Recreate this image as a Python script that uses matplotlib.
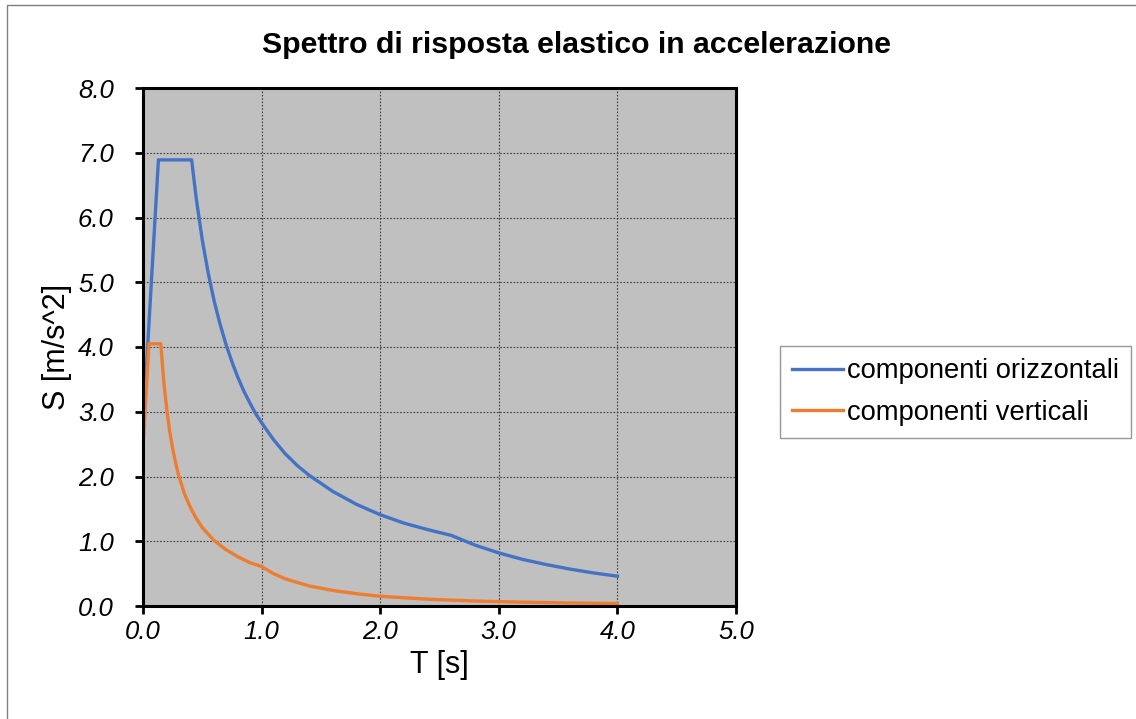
import matplotlib.pyplot as plt
from matplotlib.patches import Rectangle

# spettro orizzontale
t_h = [0.0, 0.13, 0.41, 0.45, 0.50, 0.55, 0.60, 0.65, 0.70, 0.75, 0.80, 0.85,
       0.90, 0.95, 1.00, 1.10, 1.20, 1.30, 1.40, 1.60, 1.80, 2.00, 2.20, 2.40,
       2.60, 2.80, 3.00, 3.20, 3.40, 3.60, 3.80, 4.00]
s_h = [2.76, 6.89, 6.89, 6.28, 5.65, 5.14, 4.71, 4.35, 4.04, 3.77, 3.53, 3.32,
       3.14, 2.97, 2.83, 2.57, 2.35, 2.17, 2.02, 1.77, 1.57, 1.41, 1.28, 1.18,
       1.09, 0.94, 0.82, 0.72, 0.64, 0.57, 0.51, 0.46]

# spettro verticale
t_v = [0.0, 0.05, 0.15, 0.175, 0.20, 0.225, 0.25, 0.275, 0.30, 0.35, 0.40,
       0.45, 0.50, 0.60, 0.70, 0.80, 0.90, 1.00, 1.10, 1.20, 1.40, 1.60, 1.80,
       2.00, 2.40, 2.80, 3.20, 3.60, 4.00]
s_v = [2.45, 4.05, 4.05, 3.47, 3.04, 2.70, 2.43, 2.21, 2.02, 1.73, 1.52,
       1.35, 1.21, 1.01, 0.87, 0.76, 0.67, 0.61, 0.50, 0.42, 0.31, 0.24, 0.19,
       0.15, 0.105, 0.077, 0.059, 0.047, 0.038]

labels = ['componenti orizzontali', 'componenti verticali']
colors = ['#4472C4', '#ED7D31']

plt.rcParams['font.family'] = ['Liberation Sans', 'DejaVu Sans']

fig = plt.figure(figsize=(11.36, 7.19), dpi=100)
fig.patches.append(Rectangle((7 / 1136, -0.01), 1.02, 1 - 5 / 719 + 0.01,
                             transform=fig.transFigure, fill=False,
                             edgecolor='#7f7f7f', lw=1))

ax = fig.add_axes([143 / 1136, 113 / 719, 593 / 1136, 518 / 719])
ax.set_facecolor('#C0C0C0')

ax.plot(t_h, s_h, color=colors[0], lw=2.4, label=labels[0])
ax.plot(t_v, s_v, color=colors[1], lw=2.4, label=labels[1])

ax.set_xlim(0, 5)
ax.set_ylim(0, 8)
ax.set_xticks([0, 1, 2, 3, 4, 5])
ax.set_yticks([0, 1, 2, 3, 4, 5, 6, 7, 8])
ax.set_xticklabels(['%.1f' % v for v in range(6)], fontstyle='italic', fontsize=18.5)
ax.set_yticklabels(['%.1f' % v for v in range(9)], fontstyle='italic', fontsize=18.5)
ax.tick_params(direction='out', length=6, width=2, color='black')
ax.tick_params(axis='x', pad=4)
ax.tick_params(axis='y', pad=15)
ax.grid(True, color='#404040', linestyle=(0, (1.5, 1.5)), lw=0.8)
ax.set_axisbelow(True)
for sp in ax.spines.values():
    sp.set_linewidth(2.2)
    sp.set_color('black')

ax.set_xlabel('T [s]', fontsize=22, va='center')
ax.xaxis.set_label_coords(0.5, (606 - 665) / 518)
ax.set_ylabel('S [m/s^2]', fontsize=22, va='center')
ax.yaxis.set_label_coords((57 - 143) / 593, 0.5)
fig.text(576 / 1136, 1 - 45 / 719, 'Spettro di risposta elastico in accelerazione',
         ha='center', va='center', fontsize=21.8, fontweight='bold')

leg = ax.legend(loc='center left', bbox_to_anchor=(780 / 1136, 1 - 392 / 719),
                bbox_transform=fig.transFigure, fontsize=19.7, frameon=True,
                fancybox=False, edgecolor='#7f7f7f', handlelength=1.85,
                handletextpad=0.15, borderpad=0.45, labelspacing=0.55,
                borderaxespad=0)
leg.get_frame().set_linewidth(1)

fig.savefig('out.png', dpi=100)
